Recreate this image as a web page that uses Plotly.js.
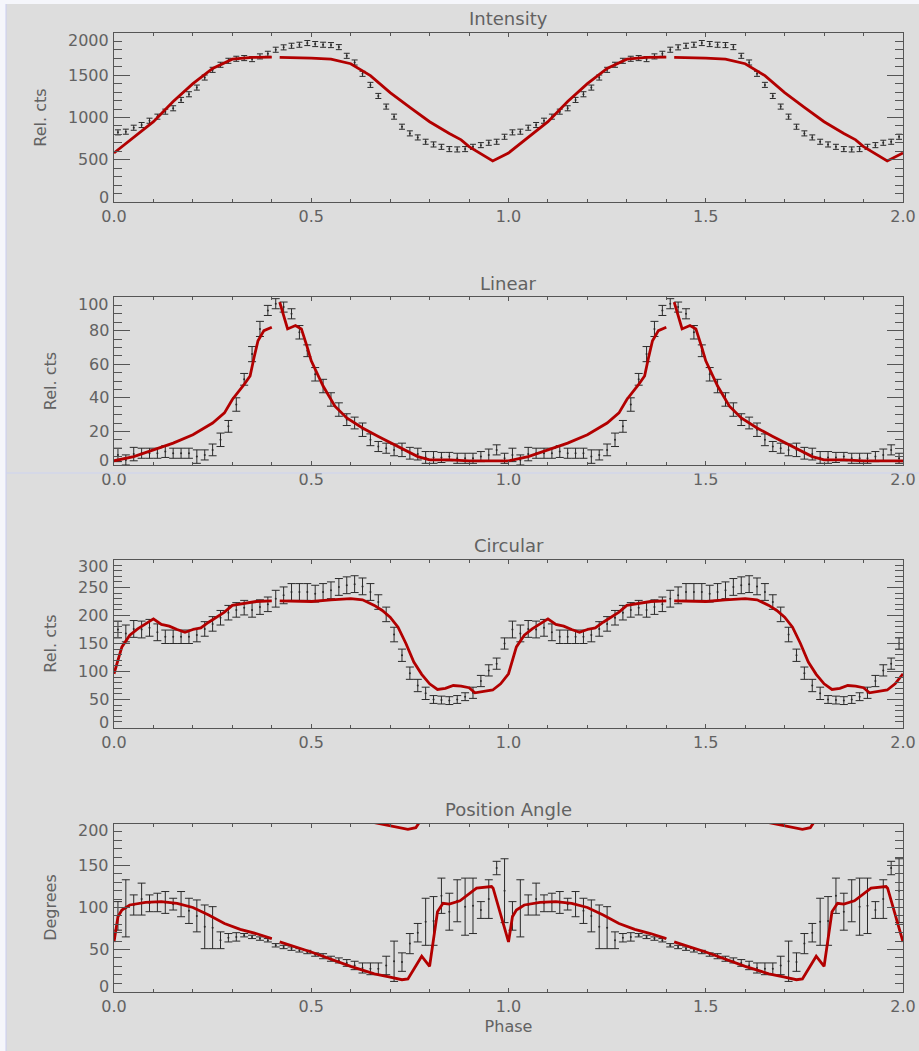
<!DOCTYPE html>
<html><head><meta charset="utf-8">
<script src="https://cdn.plot.ly/plotly-3.0.1.min.js"></script>
<style>html,body{margin:0;padding:0;background:#dddddd;} #chart{width:919px;height:1051px;}</style>
</head><body><div id="chart"></div>
<script>
// ---- data (one rotation; repeated for phase 1-2) ----
const binPhase = [0.01,0.03,0.05,0.07,0.09,0.11,0.13,0.15,0.17,0.19,0.21,0.23,0.25,0.27,0.29,0.31,0.33,0.35,0.37,0.39,0.41,0.43,0.45,0.47,0.49,0.51,0.53,0.55,0.57,0.59,0.61,0.63,0.65,0.67,0.69,0.71,0.73,0.75,0.77,0.79,0.81,0.83,0.85,0.87,0.89,0.91,0.93,0.95,0.97,0.99];

const intensityVals = [824,832,879,911,962,1010,1069,1109,1208,1275,1354,1473,1564,1624,1671,1695,1703,1691,1723,1754,1802,1830,1849,1861,1881,1869,1861,1857,1833,1730,1651,1517,1386,1255,1129,1010,891,812,764,713,681,653,626,622,626,653,673,701,713,772];
const intensityErr = [30,30,30,30,30,30,30,30,30,30,30,30,30,30,30,30,30,30,30,30,30,30,30,30,30,30,30,30,30,30,30,30,30,30,30,30,30,30,30,30,30,30,30,30,30,30,30,30,30,30];
const intensityModelPhase = [0,0.05,0.10,0.15,0.20,0.25,0.30,0.35,0.40,0.41,0.42,0.45,0.50,0.55,0.60,0.65,0.70,0.75,0.80,0.85,0.88,0.90,0.93,0.96];
const intensityModel = [580,765,950,1190,1400,1580,1690,1712,1715,null,1712,1710,1703,1690,1636,1495,1295,1120,950,810,735,655,570,485];
const intensityTicks = [0,500,1000,1500,2000];

const linearVals = [6,3,6.5,7,7,7,8,7,7,7,5,6,9,15,23,36,51,66,81,92,96,94,90,79,68,54,47,39,33,27,25,21,15,11,10,9,9,7,6.5,4.5,4.5,4.5,5,4,4,4,5,6,9,4];
const linearErr = [4,3,4,3,3,3,3.5,3,3,3,4,3,3.5,4,3.5,4,3.5,4.5,4.5,3,3,3,3,4,3.5,4,4,4,4,3.5,3.5,4,3.5,3,3,3.5,4,3.5,3.5,3.5,3.5,3,2.5,3,3,3,3,3.5,3,3];
const linearModelPhase = [0,0.05,0.10,0.15,0.20,0.25,0.28,0.30,0.33,0.345,0.355,0.365,0.38,0.40,0.41,0.42,0.44,0.46,0.475,0.49,0.50,0.53,0.56,0.59,0.63,0.67,0.72,0.77,0.80,0.85,0.90,0.95];
const linearModel = [2.5,5,9,13,18,25,31,39,48,53,64,74,80,82,null,97,81,83,81,70,62,47,35,28,22,17,11,5,3,3,2.5,2.5];
const linearTicks = [0,20,40,60,80,100];

const circularVals = [175,168,176,175,178,170,162,162,162,162,165,176,185,196,205,210,214,210,215,220,230,236,242,242,242,239,242,245,251,254,256,252,242,224,202,166,129,97,75,61,50,49,48,50,55,62,83,102,114,150];
const circularErr = [15,15,15,15,15,15,12,12,12,12,12,13,13,13,13,13,13,13,13,13,15,15,15,15,15,15,15,15,15,15,15,15,15,13,13,13,11,11,11,11,7,7,7,7,7,10,10,10,10,10];
const circularModelPhase = [0,0.02,0.04,0.06,0.08,0.10,0.12,0.14,0.16,0.18,0.20,0.22,0.24,0.26,0.28,0.30,0.33,0.36,0.40,0.41,0.42,0.46,0.50,0.55,0.60,0.63,0.66,0.68,0.70,0.72,0.74,0.76,0.78,0.80,0.82,0.84,0.86,0.88,0.90,0.915,0.94,0.96,0.98];
const circularModel = [96,144,165,176,185,194,184,181,175,170,175,178,188,197,206,218,222,225,226,null,226,226,225,228,230,228,218,209,197,179,150,117,95,78,68,70,75,74,71,62,65,67,78];
const circularTicks = [0,50,100,150,200,250,300];

const paVals = [90,99,103,110,105,106,106,104,104,96,90,77,76,61,64,65,67,65,63,61,55,53,51,49,47,44,42,39,37,34,31,28,27,27,31,36,35,57,70,83,84,114,95,108,101,102,97,110,147,120];
const paErr = [17,34,12,19,10,11,13,7,15,15,19,26,25,10,5,5,2,2,2,2,2,2,2,2,2,2,3,3,3,4,5,6,7,7,11,24,11,12,11,28,29,21,22,25,34,33,10,23,8,38];
const paModelPhase = [0,0.01,0.02,0.04,0.08,0.12,0.16,0.20,0.24,0.28,0.32,0.36,0.40,0.41,0.42,0.50,0.60,0.66,0.70,0.73,0.745,0.78,0.80,0.82,0.834,0.85,0.877,0.919,0.957,0.961];
const paModel = [59,89,97,103,106,107,105,100,91,81,74,69,63,null,59,47,30,21,17,14,15,42,30,95,105,104,108,123,125,123];
const paWrapPhase = [0.66,0.70,0.73,0.745,0.765,0.775];
const paWrap = [201,197,194,193,195,202];
const paTicks = [0,50,100,150,200];

const panelTitles = ['Intensity','Linear','Circular','Position Angle'];
const yTitles = ['Rel. cts','Rel. cts','Rel. cts','Degrees'];

// ---- helpers: fold data over two rotations ----
function twoCycles(ph, v){ return {x: ph.concat(ph.map(p=>p+1)), y: v.concat(v)}; }
function twoCyclesClosed(ph, v){
  const t = twoCycles(ph, v);
  t.x.push(2.0); t.y.push(v[0]);
  return t;
}

const W = 919, H = 1051;
const xDom = [114/W, 903/W];
const panels = [
  {vals:intensityVals, err:intensityErr, mph:intensityModelPhase, mv:intensityModel, ticks:intensityTicks, minor:100, top:33, bot:202, cap:3, standoff:62},
  {vals:linearVals, err:linearErr, mph:linearModelPhase, mv:linearModel, ticks:linearTicks, minor:5, top:297, bot:465, cap:4, standoff:52},
  {vals:circularVals, err:circularErr, mph:circularModelPhase, mv:circularModel, ticks:circularTicks, minor:10, top:559.5, bot:727.5, cap:4, standoff:52},
  {vals:paVals, err:paErr, mph:paModelPhase, mv:paModel, ticks:paTicks, minor:10, top:823.5, bot:991.5, cap:4, standoff:52}
];

const FONT = 'DejaVu Sans, sans-serif';
const TXT = '#626262';
const AX = '#555555';
const RED = '#b20000';

const traces = [];
const layout = {
  width: W, height: H,
  margin: {l:0, r:0, t:0, b:0},
  paper_bgcolor: '#dddddd', plot_bgcolor: '#dddddd',
  showlegend: false,
  font: {family: FONT, color: TXT, size: 16},
  annotations: [], shapes: []
};

panels.forEach((p, i) => {
  const n = i === 0 ? '' : String(i+1);
  const xa = 'x' + n, ya = 'y' + n;
  const d = twoCycles(binPhase, p.vals);
  traces.push({
    type:'scatter', mode:'markers', x:d.x, y:d.y, xaxis:xa, yaxis:ya,
    marker:{size:2, color:'#2a2a2a'},
    error_y:{type:'data', array:p.err.concat(p.err), visible:true, color:'#2a2a2a', thickness:1, width:p.cap},
    hoverinfo:'skip'
  });
  const m = twoCyclesClosed(p.mph, p.mv);
  traces.push({
    type:'scatter', mode:'lines', x:m.x, y:m.y, xaxis:xa, yaxis:ya,
    line:{color:RED, width:2.8}, connectgaps:false, hoverinfo:'skip'
  });
  if (i === 3) {
    const w = twoCycles(paWrapPhase, paWrap);
    traces.push({
      type:'scatter', mode:'lines', x:w.x, y:w.y, xaxis:xa, yaxis:ya,
      line:{color:RED, width:2.8}, hoverinfo:'skip'
    });
  }
  const yDom = [1 - p.bot/H, 1 - p.top/H];
  const ymin = p.ticks[0], ymax = p.ticks[p.ticks.length-1];
  layout['xaxis' + n] = {
    domain: xDom, range:[0,2], anchor: ya,
    tick0:0, dtick:0.5, tickformat:'.1f',
    ticks:'inside', ticklen:4, tickwidth:1, tickcolor:AX,
    minor:{dtick:0.1, ticks:'inside', ticklen:3, tickwidth:1, tickcolor:AX},
    showline:true, linecolor:AX, linewidth:1, mirror:'ticks',
    showgrid:false, zeroline:false,
    tickfont:{family:FONT, size:16, color:TXT},
    title: i === 3 ? {text:'Phase', font:{family:FONT, size:16, color:TXT}, standoff:6} : {text:''}
  };
  layout['yaxis' + n] = {
    domain: yDom, range:[ymin, ymax], anchor: xa,
    tickvals: p.ticks, showticklabels:false,
    ticks:'inside', ticklen:16, tickwidth:1, tickcolor:AX,
    minor:{dtick:p.minor, ticks:'inside', ticklen:8, tickwidth:1, tickcolor:AX},
    showline:true, linecolor:AX, linewidth:1, mirror:'ticks',
    showgrid:false, zeroline:false,
    title:{text:yTitles[i], font:{family:FONT, size:16, color:TXT}, standoff:p.standoff}
  };
  // y tick labels (end labels nudged inward as in the original)
  p.ticks.forEach(t => {
    layout.annotations.push({
      text:String(t), xref: xa + ' domain', yref: ya,
      x:0, y:t, xanchor:'right', yanchor:'middle', xshift:-3,
      yshift: t === ymax ? -7 : (t === ymin ? 5 : 0),
      showarrow:false, font:{family:FONT, size:16, color:TXT}
    });
  });
  layout.annotations.push({
    text: panelTitles[i], xref:'paper', yref:'paper',
    x: (xDom[0]+xDom[1])/2, y: 1 - (p.top - 14)/H,
    xanchor:'center', yanchor:'middle', showarrow:false,
    font:{family:FONT, size:18, color:TXT}
  });
});

// screenshot frame edges
layout.shapes.push(
  {type:'rect', xref:'paper', yref:'paper', x0:0, x1:1, y0:1-4/H, y1:1, fillcolor:'#f5f6fb', line:{width:0}, layer:'below'},
  {type:'rect', xref:'paper', yref:'paper', x0:0, x1:6/W, y0:0, y1:1, fillcolor:'#f5f6fb', line:{width:0}, layer:'below'},
  {type:'line', xref:'paper', yref:'paper', x0:6/W, x1:6/W, y0:0, y1:1-4/H, line:{color:'#c9cdf0', width:1}},
  {type:'line', xref:'paper', yref:'paper', x0:6/W, x1:1, y0:1-473/H, y1:1-473/H, line:{color:'#cdd3f0', width:1}}
);

Plotly.newPlot('chart', traces, layout, {staticPlot:true, displayModeBar:false});
</script>
</body></html>
